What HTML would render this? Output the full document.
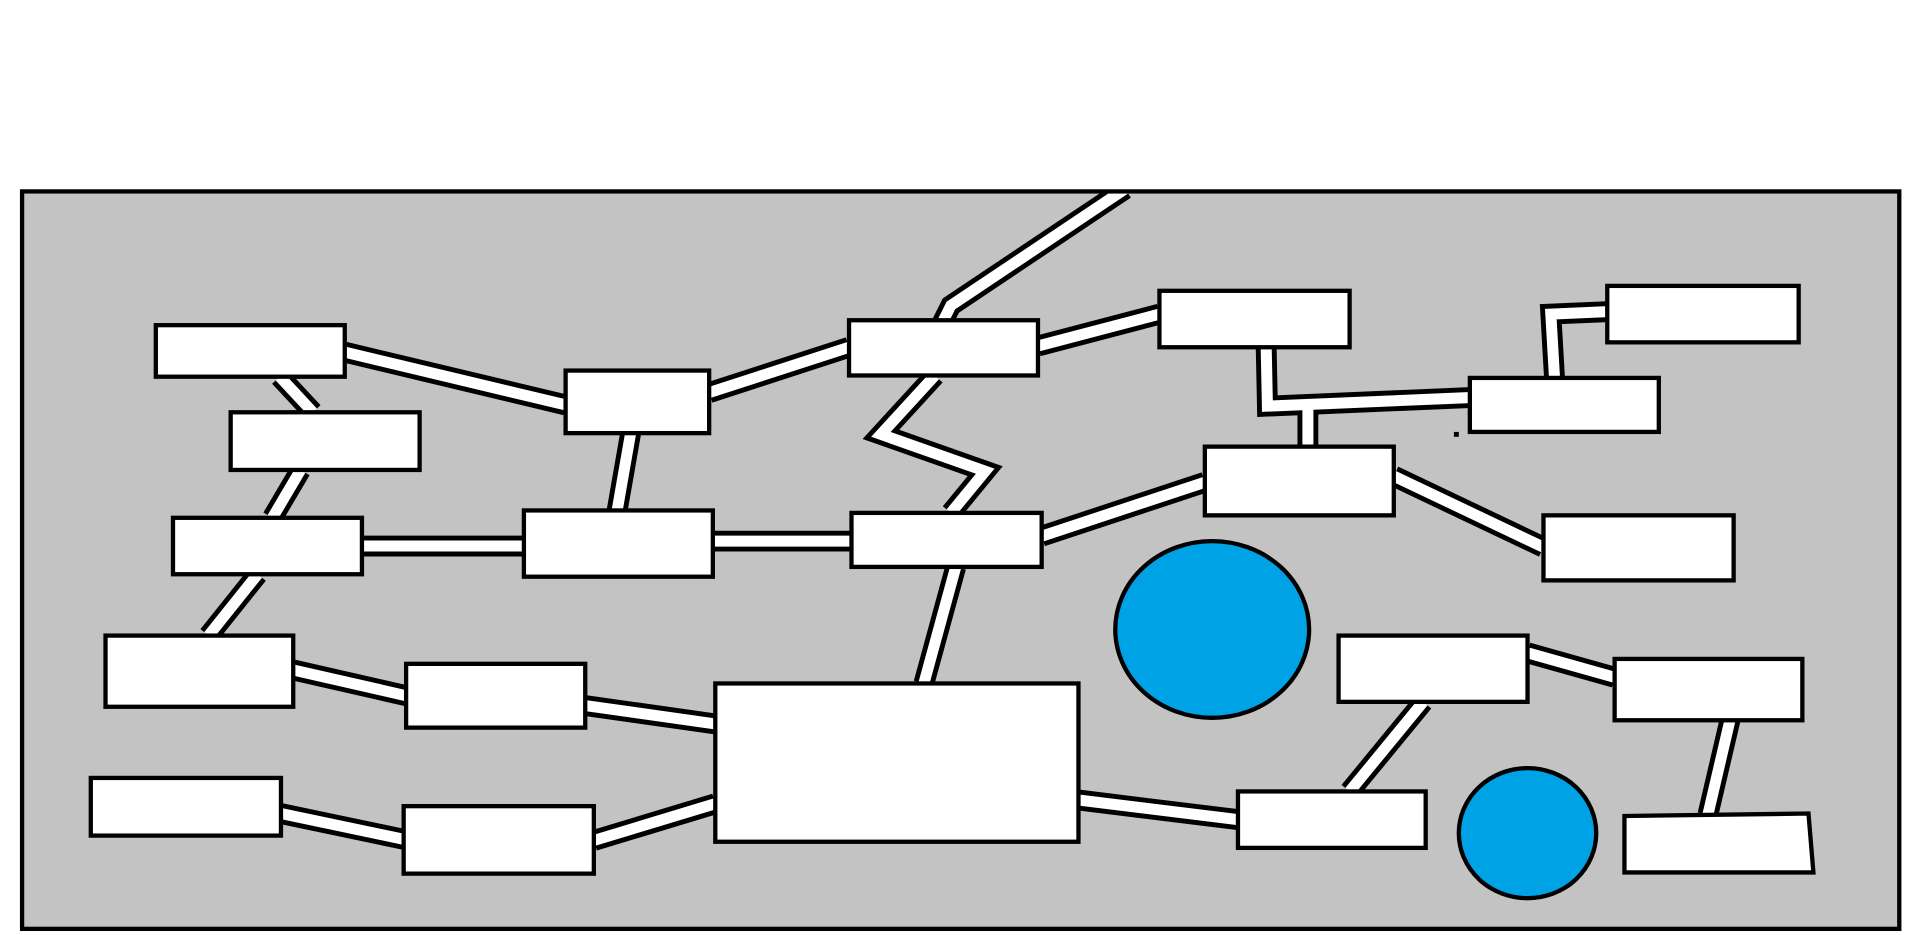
<!DOCTYPE html>
<html><head><style>html,body{margin:0;padding:0;background:#fff;overflow:hidden}svg{display:block}</style></head>
<body>
<svg width="1914" height="935" viewBox="0 0 1560 762" preserveAspectRatio="none" xmlns="http://www.w3.org/2000/svg">
<defs><clipPath id="fr"><rect x="18" y="156" width="1530" height="601"/></clipPath></defs>
<rect x="18" y="156" width="1530" height="601" fill="#c3c3c3"/>
<g fill="none" stroke-linejoin="miter" stroke-linecap="butt" clip-path="url(#fr)">
<g stroke="#000" stroke-width="17">
<polyline points="281,287 461,330"/>
<polyline points="228,307 255,336"/>
<polyline points="245,383 222,422"/>
<polyline points="295,445 427,445"/>
<polyline points="210,468 170,518"/>
<polyline points="239,546 331,567"/>
<polyline points="477,575 583,590"/>
<polyline points="229,663 329,684"/>
<polyline points="484,685 583,655"/>
<polyline points="578,320 692,283"/>
<polyline points="514,353 503,416"/>
<polyline points="581,441 694,441"/>
<polyline points="768,263 775,249 917,154"/>
<polyline points="762,306 718,354 803,384 775,418"/>
<polyline points="779,462 753,557"/>
<polyline points="846,282 945,256"/>
<polyline points="849,437 982,393"/>
<polyline points="1032,283 1033,331 1198,324"/>
<polyline points="1066,331 1066,364"/>
<polyline points="1267,308 1264,256 1310,254"/>
<polyline points="1136,388 1258,446"/>
<polyline points="1245,532 1316,552"/>
<polyline points="1160,572 1100,645"/>
<polyline points="1410,587 1392,664"/>
<polyline points="879,652 1009,668"/>
</g>
<g stroke="#fff" stroke-width="9">
<polyline points="281,287 461,330"/>
<polyline points="228,307 255,336"/>
<polyline points="245,383 222,422"/>
<polyline points="295,445 427,445"/>
<polyline points="210,468 170,518"/>
<polyline points="239,546 331,567"/>
<polyline points="477,575 583,590"/>
<polyline points="229,663 329,684"/>
<polyline points="484,685 583,655"/>
<polyline points="578,320 692,283"/>
<polyline points="514,353 503,416"/>
<polyline points="581,441 694,441"/>
<polyline points="768,263 775,249 917,154"/>
<polyline points="762,306 718,354 803,384 775,418"/>
<polyline points="779,462 753,557"/>
<polyline points="846,282 945,256"/>
<polyline points="849,437 982,393"/>
<polyline points="1032,283 1033,331 1198,324"/>
<polyline points="1066,331 1066,364"/>
<polyline points="1267,308 1264,256 1310,254"/>
<polyline points="1136,388 1258,446"/>
<polyline points="1245,532 1316,552"/>
<polyline points="1160,572 1100,645"/>
<polyline points="1410,587 1392,664"/>
<polyline points="879,652 1009,668"/>
</g>
</g>
<rect x="18" y="156" width="1530" height="601" fill="none" stroke="#000" stroke-width="3.5"/>
<g fill="#fff" stroke="#000" stroke-width="3.5">
<rect x="127" y="265" width="154" height="42"/>
<rect x="188" y="336" width="154" height="47"/>
<rect x="141" y="422" width="154" height="46"/>
<rect x="86" y="518" width="153" height="58"/>
<rect x="74" y="634" width="155" height="47"/>
<rect x="461" y="302" width="117" height="51"/>
<rect x="427" y="416" width="154" height="54"/>
<rect x="331" y="541" width="146" height="52"/>
<rect x="329" y="657" width="155" height="55"/>
<rect x="692" y="261" width="154" height="45"/>
<rect x="694" y="418" width="155" height="44"/>
<rect x="583" y="557" width="296" height="129"/>
<rect x="945" y="237" width="155" height="46"/>
<rect x="982" y="364" width="154" height="56"/>
<rect x="1198" y="308" width="154" height="44"/>
<rect x="1310" y="233" width="156" height="46"/>
<rect x="1258" y="420" width="155" height="53"/>
<rect x="1091" y="518" width="154" height="54"/>
<rect x="1316" y="537" width="153" height="50"/>
<rect x="1009" y="645" width="153" height="46"/>
<polygon points="1324,665 1474,663 1478,711 1324,711"/>
</g>
<g fill="#00a2e6" stroke="#000" stroke-width="3.5">
<ellipse cx="988" cy="513" rx="79" ry="72"/>
<ellipse cx="1245" cy="679" rx="56" ry="53"/>
</g>
<rect x="1185" y="352" width="4" height="4" fill="#000"/>
</svg>
</body></html>
